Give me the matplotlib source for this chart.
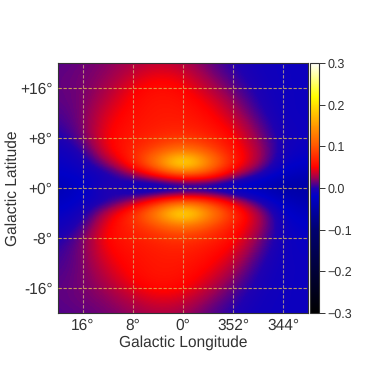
import numpy as np
import matplotlib
matplotlib.use("Agg")
import matplotlib.pyplot as plt
from matplotlib.colors import LinearSegmentedColormap

plt.rcParams['font.family'] = ['Liberation Sans', 'DejaVu Sans']
plt.rcParams['text.hinting'] = 'none'
TXT = '#333333'

lon_ticks = [16, 8, 0, -8, -16]
lon_labels = ['16°', '8°', '0°', '352°', '344°']
lat_ticks = [16, 8, 0, -8, -16]
lat_labels = ['+16°', '+8°', '+0°', '-8°', '-16°']
cbar_ticks = [-0.3, -0.2, -0.1, 0.0, 0.1, 0.2, 0.3]

lon_nodes = [20, 16, 12, 8, 4, 0, -4, -8, -12, -16, -20]
lat_nodes = [20, 18, 16, 14, 12, 10, 8, 6, 4, 2, 0, -2, -4, -6, -8, -10, -12, -14, -16, -18, -20]
excess = [
 [.010, .014, .020, .028, .034, .030, .014, .000, -.009, -.012, -.012],
 [.012, .016, .022, .036, .048, .042, .022, .005, -.007, -.012, -.012],
 [.012, .016, .027, .048, .058, .052, .033, .012, -.004, -.012, -.012],
 [.011, .016, .033, .054, .062, .059, .045, .022, -.001, -.012, -.012],
 [.008, .016, .042, .057, .064, .063, .054, .032, .005, -.012, -.012],
 [.003, .016, .048, .060, .066, .068, .060, .044, .013, -.010, -.012],
 [-.004, .013, .052, .063, .074, .082, .072, .053, .021, -.008, -.012],
 [-.012, .000, .048, .070, .096, .125, .098, .060, .030, -.010, -.015],
 [-.016, -.010, .022, .068, .140, .250, .145, .068, .028, -.016, -.020],
 [-.022, -.015, -.010, .016, .050, .084, .078, .030, -.002, -.028, -.040],
 [-.040, -.024, .010, -.024, -.036, -.034, -.034, -.036, -.038, -.055, -.050],
 [-.030, -.015, -.006, .018, .058, .088, .078, .035, -.002, -.030, -.045],
 [-.018, -.008, .035, .078, .145, .248, .148, .080, .030, -.018, -.030],
 [-.012, .002, .052, .072, .098, .125, .098, .064, .032, -.014, -.020],
 [-.004, .015, .056, .064, .074, .082, .072, .056, .020, -.012, -.015],
 [.003, .016, .050, .060, .066, .069, .060, .046, .011, -.012, -.014],
 [.006, .016, .042, .057, .064, .063, .054, .034, .003, -.012, -.012],
 [.009, .016, .033, .054, .062, .059, .045, .022, -.002, -.012, -.012],
 [.011, .016, .026, .044, .056, .052, .033, .012, -.005, -.012, -.012],
 [.011, .015, .020, .031, .042, .037, .021, .005, -.008, -.012, -.012],
 [.009, .012, .016, .023, .030, .026, .012, .000, -.010, -.012, -.012],
]

cmap_stops = [(-0.3, '#000000'), (-0.1, '#000070'), (-0.02, '#0000c8'), (0.0, '#2000b0'),
              (0.025, '#a00050'), (0.05, '#ff0000'), (0.1, '#ff5500'), (0.15, '#ff9a00'),
              (0.22, '#ffff00'), (0.3, '#ffffff')]
cmap = LinearSegmentedColormap.from_list(
    'hotblue', [((v + 0.3) / 0.6, c) for v, c in cmap_stops], N=512)

W, H = 376, 377
fig = plt.figure(figsize=(W / 100, H / 100), dpi=100)
ax = fig.add_axes([58 / W, 1 - 313 / H, 250 / W, 250 / H])
im = ax.imshow(np.array(excess), cmap=cmap, vmin=-0.3, vmax=0.3, interpolation='bicubic',
               extent=[lon_nodes[0] + 2, lon_nodes[-1] - 2, lat_nodes[-1] - 1, lat_nodes[0] + 1],
               aspect='auto')
ax.set_xlim(20, -20)
ax.set_ylim(-20, 20)
ax.set_xticks(lon_ticks, lon_labels)
ax.set_yticks(lat_ticks, lat_labels)
ax.tick_params(length=0, labelsize=11.2, labelcolor=TXT, pad=4)
ax.grid(True, axis='y', color='#d8b848', lw=0.8, ls=(0, (3, 1.5)), alpha=0.85)
ax.grid(True, axis='x', color='#d8c080', lw=0.8, ls=(0, (3, 1.5)), alpha=0.7)
ax.set_axisbelow(False)
ax.set_xlabel('Galactic Longitude', fontsize=11.2, color=TXT, labelpad=1)
ax.set_ylabel('Galactic Latitude', fontsize=11.2, color=TXT, labelpad=0)
for s in ax.spines.values():
    s.set_color('#333333')
    s.set_linewidth(0.8)

cax = fig.add_axes([310 / W, 1 - 313 / H, 9 / W, 250 / H])
cb = fig.colorbar(im, cax=cax, ticks=cbar_ticks)
cb.ax.tick_params(labelsize=9, labelcolor=TXT, color='#333333', length=4, width=0.7, pad=2)
cb.outline.set_edgecolor('#333333')
cb.outline.set_linewidth(0.8)

fig.savefig('out.png', dpi=100)
